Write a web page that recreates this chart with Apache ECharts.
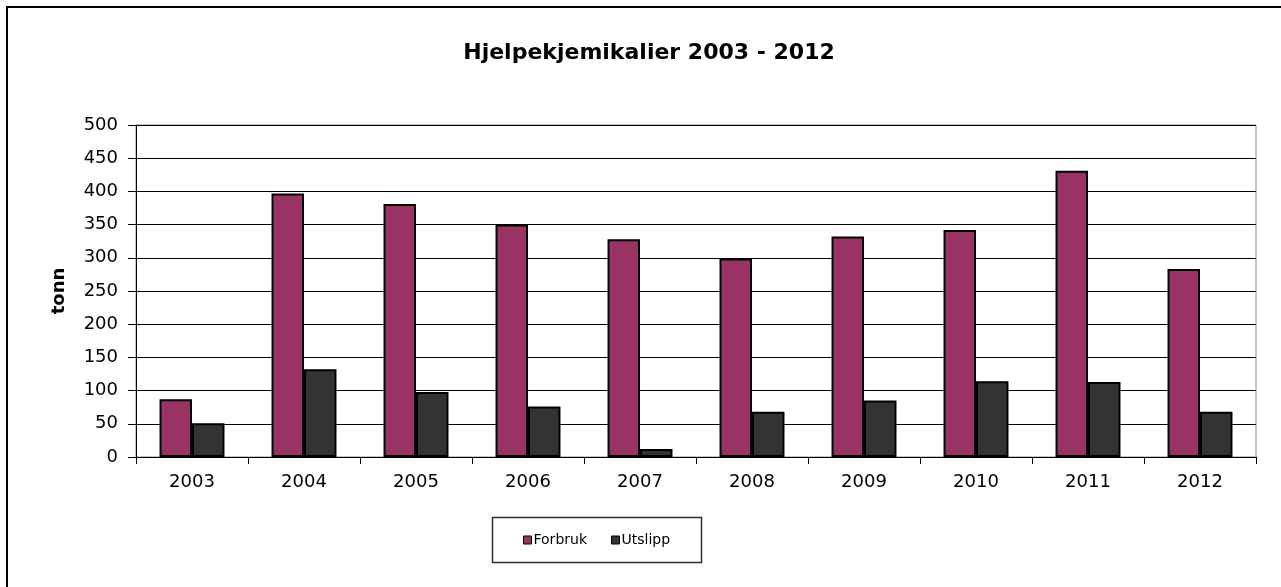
<!DOCTYPE html>
<html>
<head>
<meta charset="utf-8">
<title>Hjelpekjemikalier 2003 - 2012</title>
<script src="https://cdn.jsdelivr.net/npm/echarts@6/dist/echarts.min.js"></script>
<style>
  html, body { margin: 0; padding: 0; background: #ffffff; }
  #chart { width: 1281px; height: 587px; }
</style>
</head>
<body>
<div id="chart"></div>
<script>
// Årlige mengder hjelpekjemikalier (tonn)
const years = ['2003', '2004', '2005', '2006', '2007', '2008', '2009', '2010', '2011', '2012'];
const forbruk = [87, 397, 381, 350, 328, 299, 332, 342, 431, 283];
const utslipp = [51, 132, 98, 76, 12, 68, 85, 114, 113, 68];
const yTicks = { min: 0, max: 500, interval: 50 };

const FONT = '"DejaVu Sans", "Liberation Sans", Arial, sans-serif';

const chart = echarts.init(document.getElementById('chart'), null, { renderer: 'canvas' });

chart.setOption({
  animation: false,
  backgroundColor: '#ffffff',
  title: {
    text: 'Hjelpekjemikalier 2003 - 2012',
    left: 644,
    top: 37,
    textAlign: 'center',
    textStyle: { fontFamily: FONT, fontSize: 22, fontWeight: 'bold', color: '#000000' }
  },
  graphic: [
    {
      // chart frame
      type: 'rect',
      z: -1,
      shape: { x: 7, y: 7, width: 1320, height: 620 },
      style: { fill: 'none', stroke: '#000000', lineWidth: 2 }
    },
    {
      // legend frame
      type: 'rect',
      shape: { x: 492.5, y: 517.5, width: 209, height: 45 },
      style: { fill: '#ffffff', stroke: '#333333', lineWidth: 1.5 },
      z: 0
    }
  ],
  legend: {
    left: 523,
    top: 533,
    padding: 0,
    itemWidth: 8,
    itemHeight: 8,
    itemGap: 24,
    icon: 'rect',
    itemStyle: { borderColor: '#000000', borderWidth: 1 },
    textStyle: { fontFamily: FONT, fontSize: 14, color: '#000000', padding: [0, 0, 0, -3] },
    data: ['Forbruk', 'Utslipp'],
    z: 5
  },
  grid: {
    left: 136,
    right: 25,
    top: 125,
    bottom: 130,
    show: true,
    borderColor: '#8c8c8c',
    borderWidth: 1,
    backgroundColor: '#ffffff'
  },
  xAxis: {
    type: 'category',
    data: years,
    boundaryGap: true,
    axisLine: { lineStyle: { color: '#000000', width: 1 } },
    axisTick: { show: true, length: 7, lineStyle: { color: '#000000' } },
    axisLabel: { fontFamily: FONT, fontSize: 18, color: '#000000', margin: 16 }
  },
  yAxis: {
    type: 'value',
    min: yTicks.min,
    max: yTicks.max,
    interval: yTicks.interval,
    name: 'tonn',
    nameLocation: 'middle',
    nameGap: 68,
    nameTextStyle: { fontFamily: FONT, fontSize: 18, fontWeight: 'bold', color: '#000000' },
    axisLine: { show: true, lineStyle: { color: '#000000', width: 1 } },
    axisTick: { show: true, length: 8, lineStyle: { color: '#000000' } },
    axisLabel: { fontFamily: FONT, fontSize: 18, color: '#000000', margin: 18 },
    splitLine: { show: true, lineStyle: { color: '#000000', width: 1 } }
  },
  series: [
    {
      name: 'Forbruk',
      type: 'bar',
      data: forbruk,
      barGap: '0%',
      barCategoryGap: '42%',
      itemStyle: { color: '#993366', borderColor: '#000000', borderWidth: 2 }
    },
    {
      name: 'Utslipp',
      type: 'bar',
      data: utslipp,
      itemStyle: { color: '#333333', borderColor: '#000000', borderWidth: 2 }
    }
  ]
});
</script>
</body>
</html>
